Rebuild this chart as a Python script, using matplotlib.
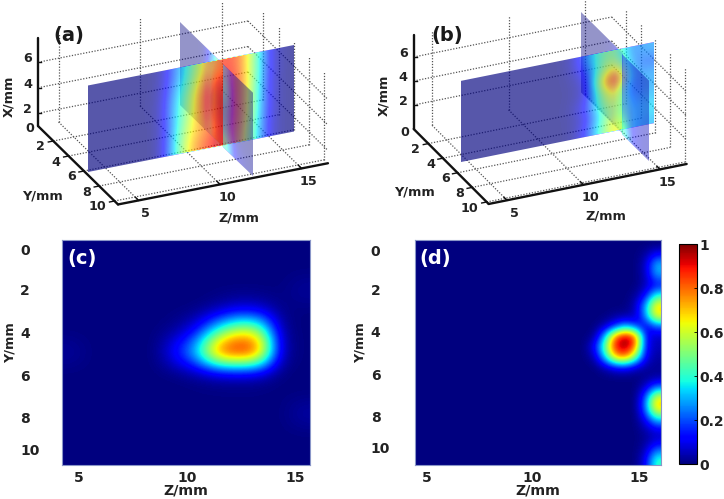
import numpy as np
import matplotlib
matplotlib.use('Agg')
import matplotlib.pyplot as plt
from matplotlib.transforms import Affine2D

W, H = 724, 499

# tick labels
x_ticks = [2, 4, 6]
y_ticks = [2, 4, 6, 8, 10]
z_ticks = [5, 10, 15]
cbar_ticks = [0, 0.2, 0.4, 0.6, 0.8, 1]
cbar_labels = ['0', '0.2', '0.4', '0.6', '0.8', '1']
map_xticks = [5, 10, 15]
map_ylabels = ['0', '2', '4', '6', '8', '10']
map_ypos_c = [0.25, 2.2, 4.3, 6.4, 8.45, 10.0]
map_ypos_d = [0.3, 2.2, 4.25, 6.35, 8.4, 9.9]

# (a) slice at constant Y, rows X from low to high, columns Z from low to high
a_yslice = [
    [0.0, 0, 0, 0, 0.01, 0.36, 0.72, 0.86, 0.98, 0.80, 0.40, 0.06, 0],
    [0.0, 0, 0, 0, 0.01, 0.34, 0.68, 0.78, 1.00, 0.85, 0.42, 0.06, 0],
    [0.0, 0, 0, 0, 0.01, 0.32, 0.62, 0.85, 1.00, 0.88, 0.45, 0.07, 0],
    [0.0, 0, 0, 0, 0.02, 0.32, 0.58, 0.90, 1.00, 0.88, 0.46, 0.07, 0],
    [0.0, 0, 0, 0, 0.02, 0.30, 0.56, 0.90, 0.98, 0.88, 0.48, 0.07, 0],
    [0.0, 0, 0, 0, 0.01, 0.26, 0.50, 0.82, 0.95, 0.86, 0.50, 0.08, 0],
    [0.0, 0, 0, 0, 0.01, 0.22, 0.45, 0.72, 0.90, 0.85, 0.50, 0.08, 0],
]
# (a) slice at constant Z, columns Y, split where it crosses the other slice
a_zslice_back = [
    [0, 0, 0, 0.02, 0.50, 0.90],
    [0, 0, 0, 0.03, 0.50, 0.95],
    [0, 0, 0, 0.03, 0.55, 0.98],
    [0, 0, 0, 0.03, 0.50, 0.98],
    [0, 0, 0, 0.03, 0.50, 0.95],
    [0, 0, 0, 0.03, 0.40, 0.80],
    [0, 0, 0, 0.02, 0.25, 0.55],
]
a_zslice_front = [
    [0.45, 0.10, 0.05, 0.02],
    [0.35, 0.05, 0.02, 0.01],
    [0.30, 0.03, 0.01, 0],
    [0.30, 0.03, 0.01, 0],
    [0.35, 0.03, 0.01, 0],
    [0.35, 0.03, 0, 0],
    [0.30, 0.02, 0, 0],
]

# (b) same two slices
b_yslice = [
    [0.0, 0, 0, 0, 0, 0, 0, 0.01, 0.15, 0.45, 0.75, 0.35, 0.30],
    [0.0, 0, 0, 0, 0, 0, 0, 0.01, 0.10, 0.42, 0.62, 0.35, 0.35],
    [0.0, 0, 0, 0, 0, 0, 0, 0.02, 0.15, 0.48, 0.65, 0.30, 0.30],
    [0.0, 0, 0, 0, 0, 0, 0, 0.01, 0.08, 0.55, 0.75, 0.20, 0.28],
    [0.0, 0, 0, 0, 0, 0, 0, 0.01, 0.08, 0.68, 1.00, 0.25, 0.28],
    [0.0, 0, 0, 0, 0, 0, 0, 0.02, 0.15, 0.52, 0.68, 0.25, 0.20],
    [0.0, 0, 0, 0, 0, 0, 0, 0.03, 0.25, 0.48, 0.52, 0.22, 0.28],
]
b_zslice_back = [
    [0, 0, 0, 0.02, 0.10, 0.45],
    [0, 0, 0, 0.02, 0.08, 0.40],
    [0, 0, 0, 0.02, 0.06, 0.35],
    [0, 0, 0, 0.02, 0.05, 0.30],
    [0, 0, 0, 0.02, 0.05, 0.25],
    [0, 0, 0, 0.01, 0.04, 0.18],
    [0, 0, 0, 0.01, 0.02, 0.12],
]
b_zslice_front = [
    [0.45, 0.12, 0.08, 0.05],
    [0.28, 0.12, 0.08, 0.05],
    [0.20, 0.12, 0.08, 0.05],
    [0.18, 0.12, 0.08, 0.05],
    [0.15, 0.10, 0.08, 0.05],
    [0.12, 0.08, 0.06, 0.04],
    [0.10, 0.06, 0.05, 0.03],
]

# (c) map, only the non-zero part is listed
c_rows = [3, 4, 5, 6]
c_cols = [4, 5, 6, 7, 8, 9, 10, 11]
c_values = [
    [0, 0, 0, 0.03, 0.08, 0.07, 0.01, 0],
    [0, 0.02, 0.12, 0.42, 0.65, 0.60, 0.03, 0],
    [0, 0.16, 0.38, 0.92, 1.00, 0.90, 0.05, 0],
    [0, 0, 0.02, 0.04, 0.05, 0.04, 0, 0],
]

# (d) map on a finer grid, right hand part only, one row per 0.5 mm
d_values = [
    [0, 0, 0, 0, 0, 0, 0],
    [0, 0, 0, 0, 0, 0.03, 0.12],
    [0, 0, 0, 0, 0, 0.06, 0.32],
    [0, 0, 0, 0, 0, 0.05, 0.28],
    [0, 0, 0, 0, 0, 0.05, 0.12],
    [0, 0, 0, 0, 0.02, 0.12, 0.40],
    [0, 0, 0, 0, 0.05, 0.30, 0.70],
    [0, 0, 0.02, 0.03, 0.05, 0.27, 0.66],
    [0, 0.05, 0.15, 0.30, 0.18, 0.08, 0.20],
    [0.02, 0.30, 0.80, 1.00, 0.85, 0.12, 0.06],
    [0.12, 0.45, 0.90, 1.00, 0.80, 0.12, 0.05],
    [0.04, 0.32, 0.70, 0.80, 0.50, 0.10, 0.03],
    [0, 0.04, 0.10, 0.12, 0.06, 0.03, 0.02],
    [0, 0, 0, 0, 0, 0.01, 0.03],
    [0, 0, 0, 0, 0, 0.08, 0.25],
    [0, 0, 0, 0, 0, 0.22, 0.68],
    [0, 0, 0, 0, 0, 0.24, 0.70],
    [0, 0, 0, 0, 0, 0.12, 0.35],
    [0, 0, 0, 0, 0, 0.04, 0.10],
    [0, 0, 0, 0, 0, 0.02, 0.06],
    [0, 0, 0, 0, 0, 0.05, 0.22],
    [0, 0, 0, 0, 0, 0.10, 0.42],
]

fig = plt.figure(figsize=(W / 100, H / 100), dpi=100)
plt.rcParams['font.family'] = 'DejaVu Sans'
plt.rcParams['font.weight'] = 'bold'


def px_axes(left, top, width, height):
    return fig.add_axes([left / W, 1 - (top + height) / H, width / W, height / H])


def volume_panel(left, geo, yslice, zback, zfront, letter, letter_pos):
    ax = px_axes(left, 0, 362, 235)

    def project(z, y, x):
        sx = geo['origin'][0] + (z - geo['z0']) * geo['zv'][0] + y * geo['yv'][0]
        sy = geo['origin'][1] + (z - geo['z0']) * geo['zv'][1] + y * geo['yv'][1] - (x - geo['x0']) * geo['h']
        return sx, sy

    def dotted(p, q):
        ax.plot(*zip(project(*p), project(*q)), ls=(0, (1, 1.3)), color='#555555', lw=0.9, zorder=1)

    z0, zm, ym, x0, xm = geo['z0'], geo['zmax'], geo['ymax'], geo['x0'], geo['xtop']
    for x in x_ticks:
        dotted((z0, 0, x), (zm, 0, x))
        dotted((zm, 0, x), (zm, ym, x))
    for z in z_ticks:
        dotted((z, 0, x0), (z, ym, x0))
        dotted((z, 0, x0), (z, 0, xm))
    for y in y_ticks:
        dotted((z0, y, x0), (zm, y, x0))
        dotted((zm, y, x0), (zm, y, xm))

    def add_slice(values, extent, to_screen, alpha):
        p00 = to_screen(extent[0], extent[2])
        p10 = to_screen(extent[1], extent[2])
        p01 = to_screen(extent[0], extent[3])
        du = (extent[1] - extent[0])
        dv = (extent[3] - extent[2])
        a, b = (p10[0] - p00[0]) / du, (p10[1] - p00[1]) / du
        c, d = (p01[0] - p00[0]) / dv, (p01[1] - p00[1]) / dv
        e = p00[0] - a * extent[0] - c * extent[2]
        f = p00[1] - b * extent[0] - d * extent[2]
        tr = Affine2D.from_values(a, b, c, d, e, f)
        ax.imshow(np.array(values, dtype=float), extent=extent, origin='lower', cmap='jet', vmin=0, vmax=1,
                  alpha=alpha, interpolation='bicubic', aspect='auto', transform=tr + ax.transData, zorder=2)

    ys, zs = geo['yslice'], geo['zslice']
    # back half of the Z slice, then the Y slice, then front half
    add_slice(zback, (zs['y0'], ys['y'], zs['x0'], zs['x1']), lambda y, x: project(zs['z'], y, x), 0.42)
    add_slice(yslice, (ys['z0'], ys['z1'], ys['x0'], ys['x1']), lambda z, x: project(z, ys['y'], x), 0.66)
    add_slice(zfront, (ys['y'], zs['y1'], zs['x0'], zs['x1']), lambda y, x: project(zs['z'], y, x), 0.42)

    # solid axes
    for p, q in [((z0, 0, x0), (z0, 0, xm)), ((z0, 0, x0), (z0, ym, x0)), ((z0, ym, x0), (zm, ym, x0))]:
        ax.plot(*zip(project(*p), project(*q)), color='#111111', lw=1.7, zorder=3, solid_capstyle='round')

    fs = geo['fs']
    for x in x_ticks:
        sx, sy = project(z0, 0, x)
        ax.plot([sx, sx + 3], [sy, sy], color='#111111', lw=1, zorder=3)
        ax.text(sx - 6, sy - 3.5, str(x), ha='right', va='center', fontsize=fs, color='#222222')
    sx, sy = project(z0, 0, x0)
    ax.text(sx - 4, sy + 3, '0', ha='right', va='center', fontsize=fs, color='#222222')
    for y in y_ticks:
        sx, sy = project(z0, y, x0)
        ax.plot([sx, sx - 5], [sy, sy + 1], color='#111111', lw=1, zorder=3)
        ax.text(sx - 8, sy + 6, str(y), ha='right', va='center', fontsize=fs, color='#222222')
    for z in z_ticks:
        sx, sy = project(z, ym, x0)
        ax.plot([sx, sx - 3], [sy, sy - 3], color='#111111', lw=1, zorder=3)
        ax.text(sx + 7, sy + 13, str(z), ha='center', va='center', fontsize=fs, color='#222222')

    ax.text(*geo['xlabel'], 'X/mm', rotation=90, ha='center', va='center', fontsize=9.3, color='#222222')
    ax.text(*geo['ylabel'], 'Y/mm', ha='center', va='center', fontsize=9.3, color='#222222')
    ax.text(*geo['zlabel'], 'Z/mm', ha='center', va='center', fontsize=9.3, color='#222222')
    ax.text(*letter_pos, letter, ha='center', va='center', fontsize=14, color='#1a1a1a')

    ax.set_xlim(0, 362)
    ax.set_ylim(235, 0)
    ax.axis('off')


geo_a = dict(origin=(38, 126), z0=3.74, zv=(16.3, -3.2), yv=(7.65, 7.5), h=12.75, x0=1, xtop=7.9,
             zmax=16.62, ymax=10.46, fs=9.2,
             yslice=dict(y=5.98, z0=4, z1=16.58, x0=0.84, x1=7.59),
             zslice=dict(z=12.27, y0=0.4, y1=9.8, x0=0.74, x1=7.25),
             xlabel=(9, 96), ylabel=(42, 196), zlabel=(239, 218))
geo_b = dict(origin=(51.7, 129), z0=3.8, zv=(15.3, -3.09), yv=(7.3, 7.3), h=12, x0=0, xtop=7.83,
             zmax=16.74, ymax=10.27, fs=9.2,
             yslice=dict(y=6.07, z0=4, z1=16.55, x0=0.9, x1=7.65),
             zslice=dict(z=14.55, y0=0.4, y1=9.7, x0=0.47, x1=7.14),
             xlabel=(22, 95), ylabel=(52, 192), zlabel=(244, 216))

volume_panel(0, geo_a, a_yslice, a_zslice_back, a_zslice_front, '(a)', (69, 36))
volume_panel(362, geo_b, b_yslice, b_zslice_back, b_zslice_front, '(b)', (85, 36))

# bottom maps
grid_c = np.zeros((11, 12))
grid_c[np.ix_(c_rows, c_cols)] = c_values
grid_c[5, 0] = 0.03
grid_c[2, 11] = 0.03
grid_c[8, 11] = 0.04

grid_d = np.zeros((22, 24))
grid_d[:, 17:] = d_values
grid_d[0, 20:] = 0


def map_panel(left, width, grid, zlim, ypos, letter, label_x, pad):
    ax = px_axes(left, 239.7, width, 225.3)
    im = ax.imshow(grid, cmap='jet', vmin=0, vmax=1, extent=(zlim[0], zlim[1], 10.75, -0.25), aspect='auto',
                   interpolation='bicubic')
    ax.set_xticks(map_xticks)
    ax.set_yticks(ypos, map_ylabels)
    ax.tick_params(axis='both', length=0, labelsize=10, labelcolor='#222222')
    ax.tick_params(axis='x', pad=4)
    ax.tick_params(axis='y', pad=pad)
    for lab in ax.get_yticklabels():
        lab.set_ha('left')
    for s in ax.spines.values():
        s.set_color('#8a96c8')
        s.set_linewidth(0.8)
    ax.set_xlabel('Z/mm', fontsize=10.2, fontweight='bold', color='#222222', va='center')
    ax.xaxis.set_label_coords(0.5, -26 / 225.3)
    ax.set_ylabel('Y/mm', fontsize=9.3, fontweight='bold', color='#222222', va='center')
    ax.yaxis.set_label_coords((label_x - left) / width, 1 - (343 - 239.7) / 225.3)
    ax.text(0.08, 0.915, letter, transform=ax.transAxes, color='white', fontsize=14, ha='center', va='center')
    return im


map_panel(61.7, 248.3, grid_c, (4.19, 15.7), map_ypos_c, '(c)', 10, 30)
im_d = map_panel(415.3, 245.7, grid_d, (4.48, 16.05), map_ypos_d, '(d)', 360, 32)

cax = px_axes(678.7, 244, 18.3, 220)
cbar = fig.colorbar(im_d, cax=cax, ticks=cbar_ticks)
cbar.ax.set_yticklabels(cbar_labels)
cbar.ax.tick_params(length=2, width=0.6, direction='in', labelsize=10, pad=2, labelcolor='#222222')
cbar.outline.set_linewidth(0.8)

fig.savefig('out.png', dpi=100)
